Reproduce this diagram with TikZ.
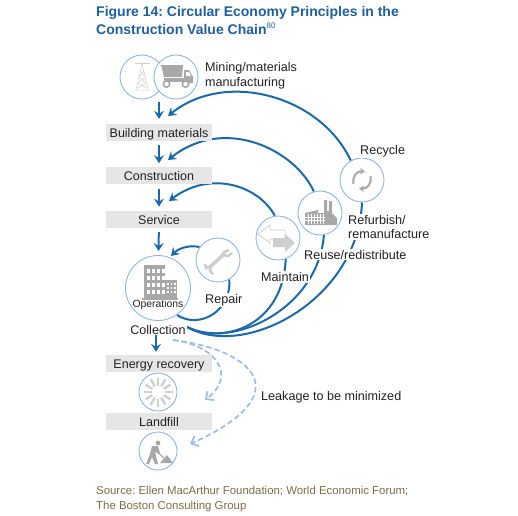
\documentclass[tikz,border=0pt]{standalone}
\usepackage{fontspec}
\setmainfont{Liberation Sans}
\frenchspacing
\usetikzlibrary{positioning,arrows.meta,backgrounds}
\definecolor{titlec}{HTML}{1F5F9F}
\definecolor{loopc}{HTML}{1B69AD}
\definecolor{leakc}{HTML}{9CBEE6}
\definecolor{ringc}{HTML}{8FB6E3}
\definecolor{stagec}{HTML}{E6E6E6}
\definecolor{iconc}{HTML}{A8A8A8}
\definecolor{paleic}{HTML}{CFCFCF}
\definecolor{inkc}{HTML}{222222}
\definecolor{srcc}{HTML}{7E6C45}
\newcommand{\fs}[1]{\fontsize{#1}{#1}\selectfont}
\tikzset{
  ttl/.style   ={font=\fs{14}\bfseries,text=titlec,anchor=base west,inner sep=0pt},
  src/.style   ={font=\fs{11.4},text=srcc,anchor=base west,inner sep=0pt},
  stage/.style ={fill=stagec,minimum width=106pt,minimum height=17pt,inner sep=0pt,
                 text height=10pt,text depth=.6pt,font=\fs{12.5},text=inkc},
  ring/.style  ={circle,draw=ringc,line width=.9pt,fill=white,inner sep=0pt,minimum size=44pt},
  lbl/.style   ={font=\fs{12.6},text=inkc,align=left,fill=white,inner sep=1pt},
  flow/.style  ={-{Stealth[length=8pt,width=10pt,inset=3pt]},draw=loopc,line width=2pt},
  loopb/.style ={draw=loopc,line width=2pt},
  leak/.style  ={-{Straight Barb[length=6pt,width=11pt]},draw=leakc,line width=1.7pt,
                 dash pattern=on 5.5pt off 3pt},
  tick/.style  ={draw=paleic,line width=2.4pt},
  spin/.style  ={draw=iconc,line width=2pt,-{Stealth[length=5pt,width=6.5pt]}},
}

\begin{document}
\begin{tikzpicture}[x=1pt,y=-1pt]
\useasboundingbox (0,0) rectangle (518,515);

\node[ttl] (t1) at (96,16) {Figure 14: Circular Economy Principles in the};
\node[ttl] (t2) at (96,34) {Construction Value Chain\textsuperscript{\mdseries\fs{8}80}};

% ---- the chain ------------------------------------------------------------
\node[stage] (build) at (159,132.5) {Building materials};
\node[stage,below=26pt of build] (constr) {Construction};
\node[stage,below=26pt of constr] (serv) {Service};
\node[stage] (energy) at (159,363.5) {Energy recovery};
\node[stage,below=41pt of energy] (land) {Landfill};

% ---- the rings -------------------------------------------------------------
\node[ring] (tower) at (142,77) {};
\node[ring] (truck) at (176,77) {};
\node[ring,minimum size=65pt] (ops) at (158,288) {};
\node[ring] (repair) at (218,260) {};
\node[ring] (maint) at (278,238) {};
\node[ring] (reuse) at (320,213) {};
\node[ring] (recyc) at (362,180) {};
\node[ring,minimum size=38pt] (sun) at (158,392) {};
\node[ring,minimum size=38pt] (dig) at (158,451) {};

% ---- labels ----------------------------------------------------------------
\node[lbl,anchor=west,fill=none] (mine) at (204,75.5) {Mining/materials\\[2.6pt]manufacturing};
\node[lbl,anchor=west] (lrecyc) at (359,151) {Recycle};
\node[lbl,anchor=west] (lrefurb) at (347,227) {Refurbish/\\[2pt]remanufacture};
\node[lbl,anchor=west] (lreuse) at (303,254.5) {Reuse/redistribute};
\node[lbl,anchor=west] (lmaint) at (260,277) {Maintain};
\node[lbl,anchor=west] (lrepair) at (204,300) {Repair};
\node[lbl] (collect) at (158,329.5) {Collection};
\node[lbl,anchor=west] (lleak) at (260,397) {Leakage to be minimized};
\node[font=\fs{10.4},text=inkc,inner sep=0pt] (lops) at (158,304.5) {Operations};
\node[src] (s1) at (96,494) {Source: Ellen MacArthur Foundation; World Economic Forum;};
\node[src] (s2) at (96,509) {The Boston Consulting Group};

\coordinate (mineout) at (159,102);
\coordinate (collout) at (156,335);
\coordinate (leakout) at (173,340);
\coordinate (inB) at (168,116);
\coordinate (inC) at (168,160);
\coordinate (inS) at (169,201);
\coordinate (inO) at (171,256);
\coordinate (outO) at (177,315);
\coordinate (outC) at (187,327);
\coordinate (inE) at (205,400);
\coordinate (inL) at (190,444);

% ---- connectors ------------------------------------------------------------
\begin{scope}[on background layer]
  \draw[flow,shorten >=5pt] (mineout) -- (mineout |- build.north);
  \draw[flow,shorten <=4pt,shorten >=4pt] (build) -- (constr);
  \draw[flow,shorten <=4pt,shorten >=4pt] (constr) -- (serv);
  \draw[flow,shorten <=4pt,shorten >=4pt] (serv) -- (ops);
  \draw[flow,shorten >=3pt] (collout) -- (collout |- energy.north);
  \draw[flow] (recyc.120) .. controls (320,95) and (225,70) .. (inB);
  \draw[flow] (reuse.106) .. controls (295,150) and (225,115) .. (inC);
  \draw[flow] (maint.98) .. controls (258,185) and (210,170) .. (inS);
  \draw[flow] (repair.145) .. controls (192,245) and (180,247) .. (inO);
  \draw[loopb] (repair.-60) .. controls (232,310) and (200,330) .. (outO);
  \draw[loopb] (maint.-70) .. controls (283,325) and (225,345) .. (outC);
  \draw[loopb] (reuse.-80) .. controls (318,310) and (230,350) .. (outC);
  \draw[loopb] (recyc.-90) .. controls (358,300) and (245,360) .. (outC);
  \draw[leak] (leakout) .. controls (215,345) and (238,375) .. (inE);
  \draw[leak] (leakout) .. controls (255,350) and (300,395) .. (inL);
\end{scope}

% ---- icons -----------------------------------------------------------------
\begin{scope}[shift={(tower.center)},draw=paleic,line width=.5pt]
  \draw (-7,-14) -- (8,-14);
  \draw (0,-14) -- (-6,13) (0,-14) -- (6,13) (-7,13) -- (7,13);
  \foreach \yy in {-6,0,6} {\draw (-3-\yy*0.15,\yy) -- (3+\yy*0.15,\yy+5) (3+\yy*0.15,\yy) -- (-3-\yy*0.15,\yy+5);}
\end{scope}
\begin{scope}[shift={(truck.center)}]
  \fill[iconc] (-15,-12) -- (7,-12) -- (6,0) -- (-12,0) -- cycle;
  \fill[iconc] (8,-7) -- (13,-7) -- (17,0) -- (17,6) -- (8,6) -- cycle;
  \fill[iconc] (-12,1) rectangle (8,5);
  \draw[iconc,line width=1.6pt,fill=white] (-9.5,7) circle (3.2pt) (9.5,7) circle (3.2pt);
  \fill[white] (10,-5) -- (13,-5) -- (15,-1) -- (10,-1) -- cycle;
\end{scope}
\begin{scope}[shift={(recyc.center)}]
  \draw[spin] (-8.5,4) .. controls (-10,-4) and (-5,-9) .. (3,-8.5);
  \draw[spin] (8.5,-4) .. controls (10,4) and (5,9) .. (-3,8.5);
\end{scope}
\begin{scope}[shift={(reuse.center)}]
  \fill[iconc] (-15,0) -- (-2,-3) -- (-2,0) -- (4,0) -- (4,-13) -- (7,-13) -- (7,-2) -- (9,-2) -- (9,-12) -- (12,-12) -- (12,0) -- (17,5) -- (17,12) -- (-15,12) -- cycle;
  \foreach \xx in {-12,-9,-6,-3,0,3} {\draw[white,line width=.5pt] (\xx,1) -- (\xx,11);}
  \foreach \yy in {4,7} {\draw[white,line width=.5pt] (-15,\yy) -- (5,\yy);}
\end{scope}
\begin{scope}[shift={(maint.center)}]
  \draw[paleic,line width=.8pt,fill=white] (-20,-4) -- (-8,-13) -- (-8,-8) -- (7,-8) -- (7,1) -- (-8,1) -- (-8,5) -- cycle;
  \fill[paleic] (-5,0) -- (7,0) -- (7,-4) -- (17,5) -- (7,14) -- (7,9) -- (-5,9) -- cycle;
\end{scope}
\begin{scope}[shift={(repair.center)}]
  \draw[paleic,line width=3.6pt] (-7,6) -- (5,-5);
  \draw[paleic,line width=2.6pt] (-13,4) -- (-12,8) -- (-7,6) -- (-8,11) -- (-5,14);
  \draw[paleic,line width=2.6pt] (11,-10) -- (6,-8) -- (5,-5) -- (10,-4) -- (14,-7);
\end{scope}
\begin{scope}[shift={(ops.center)}]
  \fill[iconc] (-14,-23) rectangle (7,11);
  \fill[iconc] (7,-8) rectangle (19,10);
  \fill[iconc] (-16,10) rectangle (20,12);
  \foreach \xx in {-11,-6,-1,4} \foreach \yy in {-19,-12,-5,2} {\fill[white] (\xx,\yy) rectangle +(2.8,4);}
  \foreach \xx in {9,12.5,16} \foreach \yy in {-5,-1,3} {\fill[white] (\xx,\yy) rectangle +(1.6,2.2);}
\end{scope}
\begin{scope}[shift={(sun.center)}]
  \foreach \ang in {0,30,...,330} {\draw[tick] (\ang:6.5pt) -- (\ang:14.5pt);}
\end{scope}
\begin{scope}[shift={(dig.center)}]
  \fill[iconc] (0,-8) circle (2.4pt);
  \fill[iconc] (-6,-5) -- (0,-5) -- (2,2) -- (-1,2) -- (-3,0) -- (-2,5) -- (0,13) -- (-3,13) -- (-6,6) -- (-9,13) -- (-12,13) -- (-8,3) -- cycle;
  \draw[iconc,line width=1.2pt] (-5,-3) -- (6,7);
  \fill[iconc] (2,12) -- (9,4) -- (15,12) -- cycle;
\end{scope}
\end{tikzpicture}
\end{document}
